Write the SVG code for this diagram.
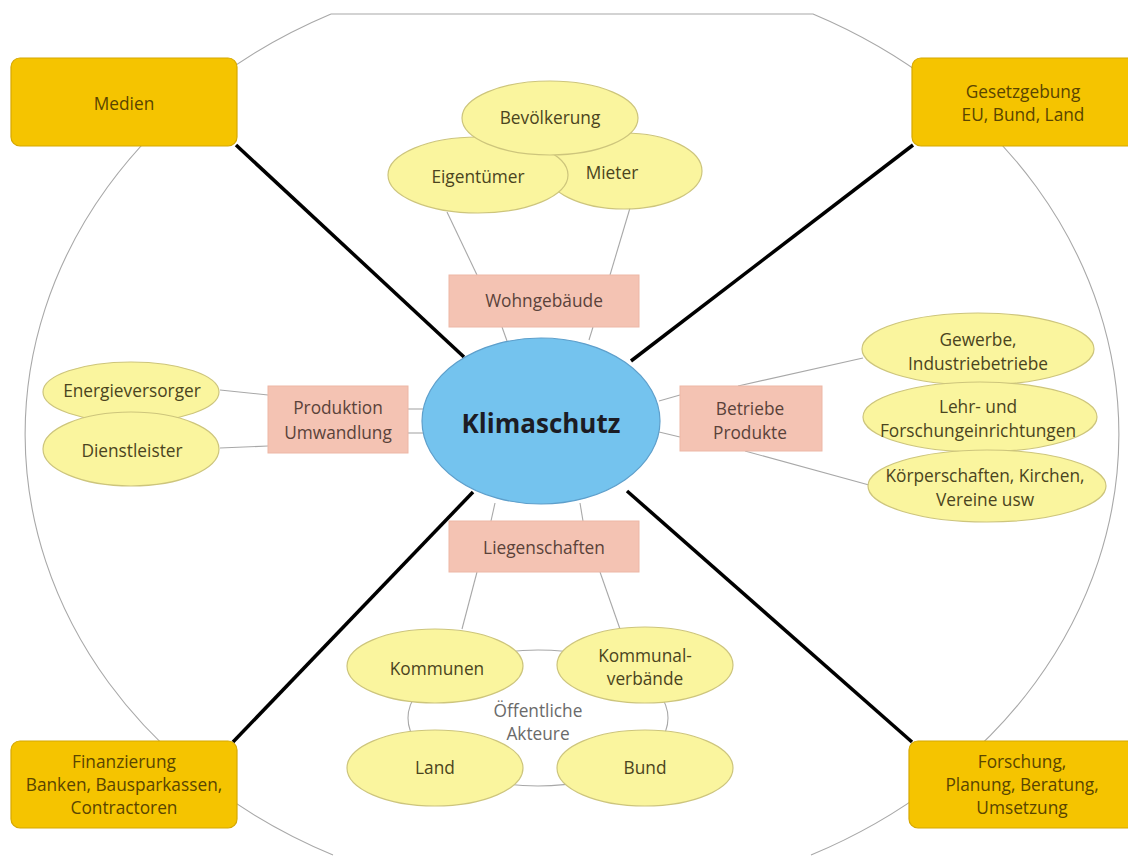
<svg xmlns="http://www.w3.org/2000/svg" width="1128" height="856" viewBox="0 0 1128 856">
<style>
text{font-family:"Open Sans","Noto Sans","Liberation Sans",sans-serif;font-size:17.3px;text-anchor:middle;dominant-baseline:central}
.corner rect{fill:#F5C400;stroke:#D6A800;stroke-width:1.2}
.corner text{fill:#5A4500}
.pink rect{fill:#F4C3B3;stroke:#EDB7A6;stroke-width:1}
.pink text{fill:#5A423A}
.yel ellipse{fill:#FAF59E;stroke:#CDC57C;stroke-width:1.2}
.yel text{fill:#4A4420}
.thin{stroke:#A8A8A8;stroke-width:1.1;fill:none}
.thick{stroke:#000;stroke-width:3.5;fill:none}
</style>
<rect width="1128" height="856" fill="#fff"/>
<path id="outer" class="thin" d="M331,14 L813,14 A547 468 0 0 1 811,855 M333,855 A547 468 0 0 1 331,14"/>
<g id="connectors">
<line class="thick" x1="236" y1="145" x2="464" y2="357"/>
<line class="thick" x1="913" y1="145" x2="631" y2="361"/>
<line class="thick" x1="233" y1="742" x2="473" y2="492"/>
<line class="thick" x1="912" y1="742" x2="627" y2="491"/>
<line class="thin" x1="447" y1="212" x2="477" y2="275"/>
<line class="thin" x1="630" y1="208" x2="610" y2="275"/>
<line class="thin" x1="502" y1="327" x2="507" y2="341"/>
<line class="thin" x1="593" y1="327" x2="589" y2="340"/>
<line class="thin" x1="220" y1="390" x2="268" y2="395"/>
<line class="thin" x1="220" y1="448" x2="268" y2="446"/>
<line class="thin" x1="408" y1="409" x2="424" y2="409"/>
<line class="thin" x1="408" y1="433" x2="424" y2="433"/>
<line class="thin" x1="738" y1="386" x2="863" y2="358"/>
<line class="thin" x1="745" y1="451" x2="869" y2="485"/>
<line class="thin" x1="659" y1="401" x2="680" y2="395"/>
<line class="thin" x1="659" y1="432" x2="680" y2="437"/>
<line class="thin" x1="495" y1="503" x2="491" y2="521"/>
<line class="thin" x1="580" y1="503" x2="583" y2="521"/>
<line class="thin" x1="477" y1="572" x2="462" y2="629"/>
<line class="thin" x1="600" y1="572" x2="620" y2="629"/>
<ellipse class="thin" cx="538" cy="718" rx="130" ry="68"/>
</g>
<g id="medien" class="corner"><rect x="11" y="58" width="226" height="88" rx="9"/><text x="124" y="103">Medien</text></g>
<g id="gesetzgebung" class="corner"><rect x="912" y="58" width="230" height="88" rx="9"/><text x="1023" y="91">Gesetzgebung</text><text x="1023" y="114">EU, Bund, Land</text></g>
<g id="finanzierung" class="corner"><rect x="11" y="741" width="226" height="87" rx="9"/><text x="124" y="761">Finanzierung</text><text x="124" y="784">Banken, Bausparkassen,</text><text x="124" y="807">Contractoren</text></g>
<g id="forschung" class="corner"><rect x="909" y="741" width="233" height="87" rx="9"/><text x="1022" y="761">Forschung,</text><text x="1022" y="784">Planung, Beratung,</text><text x="1022" y="807">Umsetzung</text></g>
<g id="mieter" class="yel"><ellipse cx="624" cy="171" rx="78" ry="38"/><text x="612" y="172">Mieter</text></g>
<g id="eigentuemer" class="yel"><ellipse cx="478" cy="175" rx="90" ry="38"/><text x="478" y="176">Eigentümer</text></g>
<g id="bevoelkerung" class="yel"><ellipse cx="550" cy="118" rx="88" ry="37"/><text x="550" y="117">Bevölkerung</text></g>
<g id="wohngebaeude" class="pink"><rect x="449" y="275" width="190" height="52"/><text x="544" y="300">Wohngebäude</text></g>
<g id="energieversorger" class="yel"><ellipse cx="131" cy="392" rx="88" ry="30"/><text x="132" y="390">Energieversorger</text></g>
<g id="dienstleister" class="yel"><ellipse cx="131" cy="449" rx="88" ry="37"/><text x="132" y="450">Dienstleister</text></g>
<g id="produktion" class="pink"><rect x="268" y="386" width="140" height="67"/><text x="338" y="407">Produktion</text><text x="338" y="432">Umwandlung</text></g>
<g id="betriebe" class="pink"><rect x="680" y="386" width="142" height="65"/><text x="750" y="408">Betriebe</text><text x="750" y="432">Produkte</text></g>
<g id="gewerbe" class="yel"><ellipse cx="978" cy="349" rx="116" ry="36"/><text x="978" y="339">Gewerbe,</text><text x="978" y="363">Industriebetriebe</text></g>
<g id="lehr" class="yel"><ellipse cx="980" cy="417" rx="117" ry="35"/><text x="978" y="406">Lehr- und</text><text x="978" y="430">Forschungeinrichtungen</text></g>
<g id="koerperschaften" class="yel"><ellipse cx="987" cy="486" rx="119" ry="36"/><text x="985" y="475">Körperschaften, Kirchen,</text><text x="985" y="499">Vereine usw</text></g>
<g id="klimaschutz"><ellipse cx="541" cy="421" rx="119" ry="83" fill="#74C3EE" stroke="#5E9FCB" stroke-width="1.2"/><text x="541" y="423" style="font-size:26px;font-weight:bold;fill:#1C1C24">Klimaschutz</text></g>
<g id="liegenschaften" class="pink"><rect x="449" y="521" width="190" height="51"/><text x="544" y="547">Liegenschaften</text></g>
<g id="akteure"><text x="538" y="710" style="fill:#6A6A6A">Öffentliche</text><text x="538" y="733" style="fill:#6A6A6A">Akteure</text></g>
<g id="kommunen" class="yel"><ellipse cx="435" cy="666" rx="88" ry="37"/><text x="437" y="668">Kommunen</text></g>
<g id="kommunalverbaende" class="yel"><ellipse cx="645" cy="665" rx="88" ry="38"/><text x="645" y="655">Kommunal-</text><text x="645" y="678">verbände</text></g>
<g id="land" class="yel"><ellipse cx="435" cy="768" rx="88" ry="38"/><text x="435" y="767">Land</text></g>
<g id="bund" class="yel"><ellipse cx="645" cy="768" rx="88" ry="38"/><text x="645" y="767">Bund</text></g>
</svg>
